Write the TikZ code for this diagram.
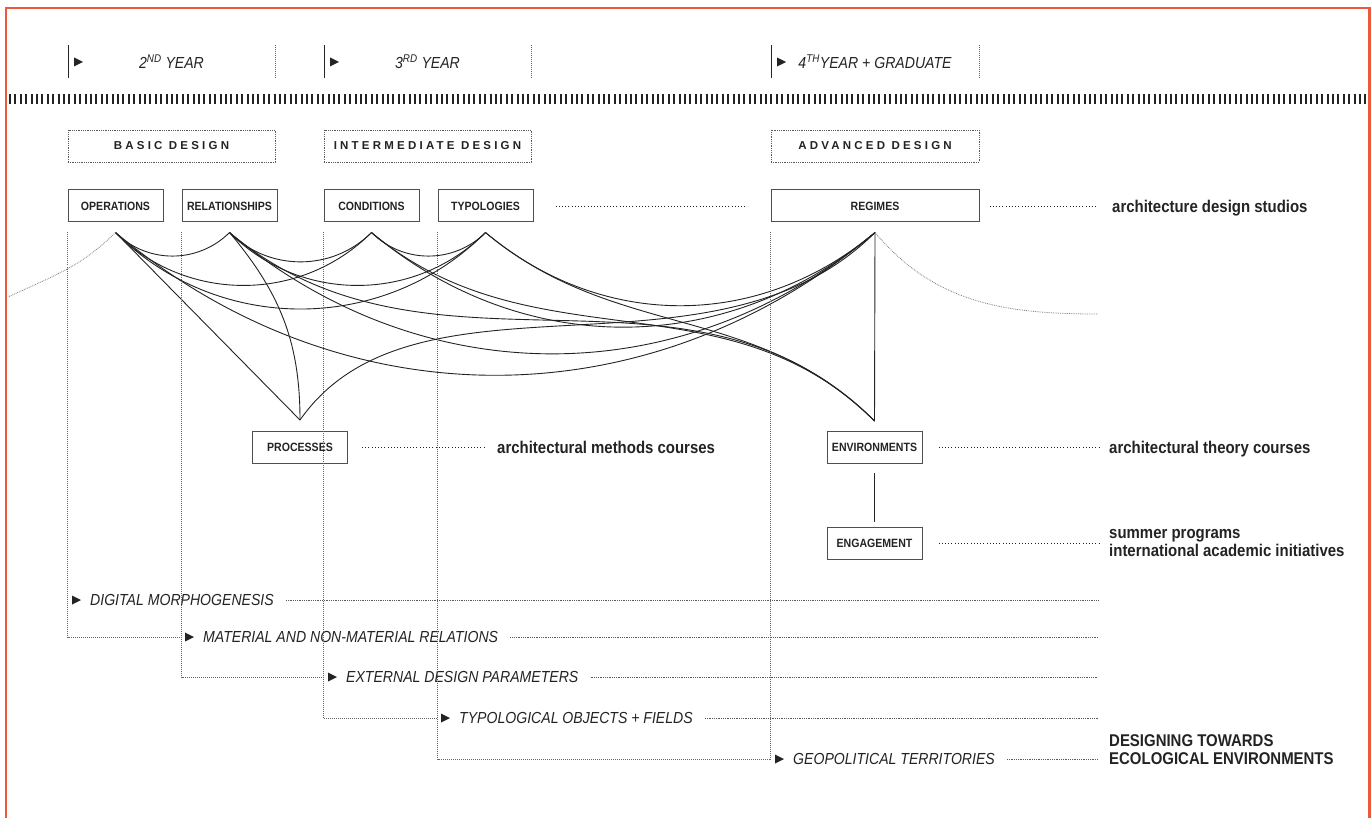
\documentclass[tikz,border=0pt]{standalone}
\usepackage{fontspec}
\setmainfont{Liberation Sans}[FakeStretch=0.88]
\newfontfamily\trackfont{Liberation Sans}[LetterSpace=28]
\usepackage{tikz}
\usetikzlibrary{calc,positioning}
\definecolor{frameorange}{RGB}{236,88,56}
\definecolor{ink}{RGB}{35,35,35}
\tikzset{
  box/.style={draw=ink!80, line width=1pt, minimum width=95pt, minimum height=32pt,
              inner sep=0pt, text=ink, font=\fontsize{12}{14}\selectfont\bfseries},
  widebox/.style={box, minimum width=208pt},
  stagebox/.style={draw=ink!75, line width=0.7pt, dash pattern=on 0.8pt off 1pt,
                   minimum width=207pt, minimum height=32pt, inner sep=0pt, text=ink,
                   font=\trackfont\fontsize{11.5}{13}\selectfont\bfseries},
  yearlbl/.style={inner sep=0pt, text=ink, font=\fontsize{16}{19}\selectfont\itshape},
  phase/.style={yearlbl, anchor=west},
  note/.style={inner sep=0pt, text=ink, align=left, font=\fontsize{17}{18}\selectfont\bfseries},
  link/.style={ink, line width=0.9pt},
  guide/.style={ink!70, line width=0.7pt, dash pattern=on 0.8pt off 1.2pt},
  leader/.style={ink, line width=0.9pt, dash pattern=on 1pt off 2.2pt},
  fineleader/.style={ink!75, line width=0.7pt, dash pattern=on 0.8pt off 1pt},
  ghost/.style={ink!60, line width=0.8pt, dash pattern=on 0.8pt off 1pt},
  tri/.pic={\fill[ink] (0,-4.5) -- (9,0) -- (0,4.5) -- cycle;},
}

\begin{document}
\begin{tikzpicture}[x=1pt, y=-1pt]
  \useasboundingbox (0,0) rectangle (1372,818);
  \draw[frameorange, line width=2.2pt] (6,818) -- (6,8) -- (1369.5,8) -- (1369.5,818);
  \draw[ink, line width=10pt, dash pattern=on 2pt off 3.4pt] (9,99) -- (1367,99);

  \foreach \lft/\rgt/\nm/\txt in {68/275/yrtwo/{2\textsuperscript{ND} YEAR},
                                  324/531/yrthree/{3\textsuperscript{RD} YEAR},
                                  771/979/yrfour/{4\textsuperscript{TH}YEAR + GRADUATE}} {
    \draw[ink, line width=1pt] (\lft,45) -- (\lft,78);
    \draw[guide] (\rgt,45) -- (\rgt,78);
    \pic at (\lft+6,62) {tri};
    \node[yearlbl] (\nm) at ({(\lft+\rgt)/2},62) {\txt};
  }

  \node[stagebox] (basic) at (171.5,146) {BASIC DESIGN};
  \node[stagebox] (inter) at (427.5,146) {INTERMEDIATE DESIGN};
  \node[stagebox, minimum width=208pt] (adv) at (875,146) {ADVANCED DESIGN};

  \node[box] (ops) at (115.5,206) {OPERATIONS};
  \node[box, right=18pt of ops] (rel) {RELATIONSHIPS};
  \node[box] (cond) at (371.5,206) {CONDITIONS};
  \node[box, right=18pt of cond] (typ) {TYPOLOGIES};
  \node[widebox] (reg) at (875,206) {REGIMES};
  \node[box] (proc) at (300,447.5) {PROCESSES};
  \node[box] (env) at (874.5,447.5) {ENVIRONMENTS};
  \node[box, below=63pt of env] (eng) {ENGAGEMENT};

  \coordinate (aops)  at ([yshift=-10pt]ops.south);
  \coordinate (arel)  at ([yshift=-10pt]rel.south);
  \coordinate (acond) at ([yshift=-10pt]cond.south);
  \coordinate (atyp)  at ([yshift=-10pt]typ.south);
  \coordinate (areg)  at ([yshift=-10pt]reg.south);
  \coordinate (aproc) at ([yshift=11pt]proc.north);
  \coordinate (aenv)  at ([yshift=10pt]env.north);
  \coordinate (lfade) at (8,297);
  \coordinate (rfade) at (1098,314);
  \coordinate (rim)   at (1098,0);

  \foreach \a/\b in {aops/arel, arel/acond, acond/atyp, aops/acond, arel/atyp, aops/atyp} {
    \draw[link] (\a) to[out=-45, in=-135] (\b);
  }
  \foreach \a in {aops, arel, acond, atyp} {
    \draw[link] (\a) to[out=-40, in=-140] (areg);
  }
  \foreach \a in {arel, acond, atyp} {
    \draw[link] (\a) to[out=-40, in=135] (aenv);
  }
  \draw[link] (aops) -- (aproc);
  \draw[link] (arel) to[out=-50, in=90] (aproc);
  \draw[link] (aproc) to[out=55, in=-135, out looseness=0.85, in looseness=0.97] (areg);
  \draw[link] (areg) -- (aenv);
  \draw[link] ([yshift=-9pt]env.south) -- ([yshift=5pt]eng.north);
  \draw[ghost] (aops) to[out=-135, in=25] (lfade);
  \draw[ghost] (areg) to[out=-50, in=180] (rfade);

  \foreach \gx/\ty/\nm/\txt in {68/600/dig/{DIGITAL MORPHOGENESIS},
                                181/637/mat/{MATERIAL AND NON-MATERIAL RELATIONS},
                                324/677/ext/{EXTERNAL DESIGN PARAMETERS},
                                437/718/typo/{TYPOLOGICAL OBJECTS + FIELDS},
                                771/759/geo/{GEOPOLITICAL TERRITORIES}} {
    \pic at (\gx+4,\ty) {tri};
    \node[phase] (\nm) at (\gx+22,\ty) {\txt};
    \draw[fineleader] ([xshift=12pt]\nm.east) -- (\nm.east -| rim);
  }

  \draw[guide] ([yshift=-10pt]ops.south west)  |- (rel.west |- mat.west);
  \draw[guide] ([yshift=-10pt]rel.south west)  |- (cond.west |- ext.west);
  \draw[guide] ([yshift=-10pt]cond.south west) |- (typ.west |- typo.west);
  \draw[guide] ([yshift=-10pt]typ.south west)  |- (reg.west |- geo.west);
  \draw[guide] ([yshift=-10pt]reg.south west)  -- (reg.west |- geo.west);

  \node[note, anchor=base west] (studios) at (1112,212.5) {architecture design studios};
  \node[note, anchor=base west] (methods) at (497,453) {architectural methods courses};
  \node[note, anchor=base west] (theory) at (1109,453) {architectural theory courses};
  \node[note, anchor=west] (summer) at (1109,543) {summer programs\\international academic initiatives};
  \node[note, anchor=west] (ecol) at (1109,750) {DESIGNING TOWARDS\\ECOLOGICAL ENVIRONMENTS};

  \draw[leader] ([xshift=22pt]typ.east) -- ([xshift=-23pt]reg.west);
  \draw[leader] ([xshift=10pt]reg.east) -- ([xshift=-14pt]reg.east -| studios.west);
  \draw[leader] ([xshift=14pt]proc.east) -- ([xshift=-13pt]proc.east -| methods.west);
  \draw[leader] ([xshift=16pt]env.east) -- ([xshift=-10pt]env.east -| theory.west);
  \draw[leader] ([xshift=16pt]eng.east) -- ([xshift=-10pt]eng.east -| summer.west);
\end{tikzpicture}
\end{document}
